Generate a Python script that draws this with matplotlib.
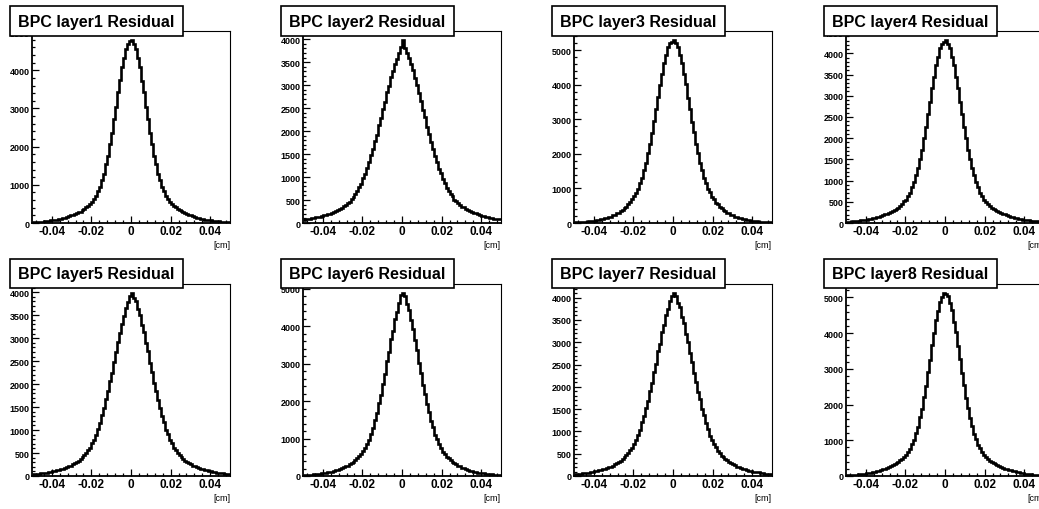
import matplotlib

matplotlib.use("Agg")
import matplotlib.pyplot as plt
import numpy as np
from matplotlib.patches import Rectangle
from matplotlib.ticker import FuncFormatter, MultipleLocator

# 100 bins from -0.05 to 0.05 cm
bin_edges = np.linspace(-0.05, 0.05, 101)

layer1 = [
    18, 23, 24, 30, 33, 39, 43, 52, 56, 66, 72, 85, 91, 106, 114, 132, 141, 163, 172, 198,
    210, 240, 250, 286, 300, 342, 360, 410, 438, 505, 548, 636, 710, 835, 948, 1128, 1285, 1540, 1760, 2080,
    2360, 2730, 3045, 3425, 3735, 4075, 4320, 4565, 4690, 4760,
    4790, 4690, 4570, 4310, 4080, 3730, 3430, 3040, 2730, 2360, 2080, 1760, 1540, 1290, 1125, 950, 834, 712, 635, 549,
    502, 440, 410, 362, 340, 302, 284, 252, 238, 209, 197, 172, 163, 141, 133, 113, 106, 90, 85, 71,
    67, 55, 52, 42, 40, 32, 30, 24, 23, 18,
]
layer2 = [
    74, 83, 88, 96, 104, 112, 120, 131, 141, 148, 164, 175, 195, 202, 228, 240, 265, 280, 312, 330,
    366, 392, 434, 465, 520, 570, 636, 694, 780, 855, 970, 1065, 1205, 1320, 1475, 1610, 1780, 1925, 2125, 2285,
    2490, 2640, 2850, 2990, 3170, 3310, 3470, 3580, 3710, 3820,
    3980, 3800, 3690, 3600, 3450, 3330, 3150, 3010, 2820, 2660, 2460, 2300, 2100, 1940, 1760, 1620, 1455, 1330, 1185, 1080,
    950, 865, 770, 705, 625, 580, 510, 474, 426, 398, 358, 338, 306, 288, 258, 248, 221, 208, 189, 180,
    158, 152, 135, 129, 115, 110, 97, 94, 82, 80,
]
layer3 = [
    17, 22, 23, 28, 30, 36, 39, 46, 51, 60, 66, 79, 86, 102, 112, 133, 145, 171, 187, 218,
    239, 276, 301, 345, 376, 425, 465, 536, 594, 697, 768, 882, 988, 1152, 1302, 1522, 1738, 2012, 2288, 2618,
    2938, 3298, 3638, 4005, 4305, 4620, 4855, 5080, 5200, 5250,
    5290, 5195, 5085, 4850, 4625, 4300, 4010, 3630, 3305, 2930, 2625, 2280, 2020, 1730, 1525, 1300, 1155, 985, 884, 766,
    698, 592, 537, 463, 426, 374, 345, 300, 277, 238, 219, 186, 171, 145, 133, 111, 102, 86, 79, 65,
    60, 50, 46, 39, 36, 30, 28, 23, 22, 17,
]
layer4 = [
    23, 29, 30, 37, 40, 47, 51, 59, 64, 75, 81, 93, 100, 114, 123, 140, 149, 166, 178, 206,
    216, 240, 254, 288, 300, 340, 362, 410, 440, 508, 552, 646, 718, 842, 955, 1130, 1285, 1518, 1720, 2010,
    2262, 2580, 2850, 3190, 3430, 3725, 3910, 4125, 4220, 4260,
    4310, 4230, 4120, 3915, 3725, 3435, 3185, 2855, 2580, 2260, 2010, 1720, 1515, 1285, 1130, 955, 840, 716, 645, 552,
    506, 440, 410, 360, 340, 301, 288, 253, 240, 216, 206, 177, 167, 148, 140, 122, 114, 99, 94, 80,
    75, 63, 60, 50, 47, 39, 37, 30, 29, 22,
]
layer5 = [
    41, 46, 49, 53, 58, 63, 70, 74, 84, 88, 101, 109, 121, 128, 148, 156, 178, 190, 215, 228,
    262, 276, 312, 330, 374, 404, 460, 496, 570, 620, 712, 778, 890, 1030, 1150, 1320, 1470, 1680, 1840, 2060,
    2250, 2480, 2700, 2920, 3110, 3310, 3480, 3660, 3790, 3920,
    3980, 3880, 3810, 3630, 3500, 3280, 3140, 2890, 2720, 2450, 2270, 2030, 1860, 1650, 1490, 1300, 1170, 1010, 905, 780,
    712, 620, 570, 495, 460, 404, 375, 332, 310, 278, 262, 227, 214, 191, 178, 155, 150, 127, 122, 108,
    101, 87, 84, 72, 70, 59, 58, 48, 49, 40,
]
layer6 = [
    24, 28, 31, 35, 39, 44, 49, 56, 61, 70, 78, 87, 97, 108, 120, 134, 150, 167, 186, 206,
    230, 256, 280, 315, 345, 385, 425, 472, 525, 590, 662, 740, 860, 960, 1125, 1275, 1490, 1680, 1940, 2170,
    2460, 2730, 3060, 3320, 3650, 3880, 4180, 4390, 4630, 4840,
    4880, 4800, 4600, 4430, 4150, 3920, 3620, 3360, 3020, 2760, 2440, 2200, 1920, 1710, 1470, 1295, 1105, 980, 842, 752,
    648, 586, 514, 470, 415, 383, 337, 310, 272, 254, 221, 205, 179, 166, 143, 134, 114, 107, 91, 86,
    72, 68, 57, 55, 45, 44, 35, 34, 27, 27,
]
layer7 = [
    42, 47, 50, 56, 60, 66, 71, 78, 86, 93, 103, 110, 124, 130, 148, 158, 176, 195, 213, 232,
    262, 285, 316, 340, 383, 415, 468, 508, 584, 636, 728, 800, 925, 1035, 1200, 1335, 1530, 1690, 1910, 2080,
    2330, 2520, 2800, 2970, 3230, 3380, 3610, 3740, 3930, 4040,
    4100, 4030, 3890, 3780, 3570, 3420, 3190, 3010, 2760, 2560, 2300, 2110, 1880, 1725, 1500, 1365, 1180, 1055, 905, 815,
    712, 650, 570, 520, 458, 426, 372, 350, 308, 292, 259, 240, 211, 203, 174, 166, 146, 136, 118, 116,
    98, 95, 81, 79, 66, 65, 55, 54, 46, 45,
]
layer8 = [
    19, 24, 26, 32, 35, 42, 46, 55, 60, 70, 77, 90, 97, 113, 122, 141, 152, 172, 186, 209,
    225, 254, 270, 303, 325, 362, 390, 436, 472, 535, 588, 678, 760, 888, 1015, 1205, 1380, 1640, 1890, 2220,
    2525, 2920, 3255, 3660, 3995, 4355, 4620, 4880, 5020, 5120,
    5090, 5040, 4850, 4650, 4325, 4025, 3630, 3285, 2890, 2555, 2190, 1915, 1620, 1400, 1185, 1035, 872, 775, 662, 600,
    524, 481, 427, 398, 353, 332, 296, 278, 247, 232, 203, 191, 167, 157, 136, 127, 109, 102, 86, 80,
    67, 63, 52, 48, 40, 37, 30, 28, 22, 21,
]

histograms = [layer1, layer2, layer3, layer4, layer5, layer6, layer7, layer8]
titles = [f"BPC layer{i} Residual" for i in range(1, 9)]
y_major = [1000, 500, 1000, 500, 500, 1000, 500, 1000]

W, H = 1039, 510
fig = plt.figure(figsize=(W / 100, H / 100), dpi=100)
fig.patch.set_facecolor("white")

col_left = [32, 303, 574, 846]
row_top = [32, 285]
ax_w, ax_h = 198, 192
box_top = [7, 260]
box_h = [30, 29]

for i, counts in enumerate(histograms):
    r, c = divmod(i, 4)
    x0 = col_left[c]
    y0 = row_top[r]
    ax = fig.add_axes([x0 / W, 1 - (y0 + ax_h) / H, ax_w / W, ax_h / H])

    ax.stairs(counts, bin_edges, baseline=None, color="black", linewidth=1.9)
    ax.set_xlim(-0.05, 0.05)
    ax.set_ylim(0, 1.05 * max(counts))

    for side in ("top", "right"):
        ax.spines[side].set_linewidth(0.8)
    for side in ("left", "bottom"):
        ax.spines[side].set_linewidth(1.3)

    ax.xaxis.set_major_locator(MultipleLocator(0.02))
    ax.xaxis.set_minor_locator(MultipleLocator(0.004))
    ax.xaxis.set_major_formatter(FuncFormatter(lambda v, p: f"{v:g}" if abs(v) > 1e-9 else "0"))
    ax.yaxis.set_major_locator(MultipleLocator(y_major[i]))
    ax.yaxis.set_minor_locator(MultipleLocator(y_major[i] / 5))
    ax.yaxis.set_major_formatter(FuncFormatter(lambda v, p: f"{v:.0f}"))

    ax.tick_params(axis="both", which="both", direction="in", top=False, right=False, width=0.9)
    ax.tick_params(axis="both", which="major", length=5)
    ax.tick_params(axis="both", which="minor", length=2.5)
    ax.tick_params(axis="x", pad=1.5)
    ax.tick_params(axis="y", pad=1.5)
    for lab in ax.get_xticklabels():
        lab.set_fontfamily("Liberation Sans")
        lab.set_fontweight("bold")
        lab.set_fontsize(8.5)
    for lab in ax.get_yticklabels():
        lab.set_fontfamily("Liberation Sans")
        lab.set_fontweight("bold")
        lab.set_fontsize(6.5)

    ax.text(1.0, -0.11, "[cm]", transform=ax.transAxes, ha="right", va="center",
            fontsize=6.5, family="Liberation Sans")

    # title box over the top left corner
    bx = x0 - 22
    by = box_top[r]
    bh = box_h[r]
    fig.patches.append(Rectangle((bx / W, 1 - (by + bh) / H), 173 / W, bh / H,
                                 transform=fig.transFigure, facecolor="white",
                                 edgecolor="black", linewidth=1.2, zorder=5))
    fig.text((bx + 86.5) / W, 1 - (by + bh / 2) / H, titles[i], ha="center", va="center",
             fontsize=11.5, fontweight="bold", family="Liberation Sans", zorder=6)

fig.savefig("out.png", dpi=100)
